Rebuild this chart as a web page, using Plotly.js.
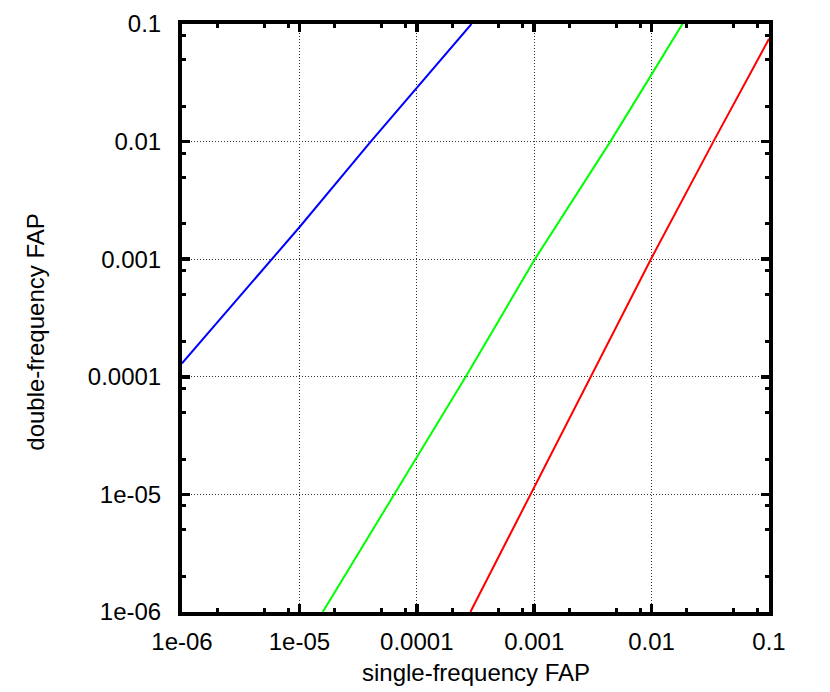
<!DOCTYPE html>
<html>
<head>
<meta charset="utf-8">
<script src="https://cdn.plot.ly/plotly-3.0.1.min.js"></script>
<style>
  html, body { margin: 0; padding: 0; background: #fff; }
  #plot { width: 830px; height: 692px; }
</style>
</head>
<body>
<div id="plot"></div>
<script>
// values (log-log)
const blueX = [1e-6, 5.82e-6, 1e-5, 4.05e-5, 1e-4, 2.92e-4];
const blueY = [1.30e-4, 1e-3, 1.87e-3, 1e-2, 0.0284, 0.1];

const greenX = [1.58e-5, 6.41e-5, 1e-4, 2.61e-4, 1e-3, 4.45e-3, 1e-2, 1.83e-2];
const greenY = [1e-6, 1e-5, 2.08e-5, 1e-4, 9.8e-4, 1e-2, 0.0373, 0.1];

const redX = [2.86e-4, 9.31e-4, 1e-3, 2.99e-3, 9.86e-3, 0.0336, 0.1];
const redY = [1e-6, 1e-5, 1.16e-5, 1e-4, 1e-3, 1e-2, 0.0748];

const tickVals = [1e-6, 1e-5, 1e-4, 1e-3, 1e-2, 1e-1];
const tickText = ["1e-06", "1e-05", "0.0001", "0.001", "0.01", "0.1"];
const minorMult = [2, 5, 8];

const minorVals = [];
tickVals.slice(0, -1).forEach((v) => {
  minorMult.forEach((m) => minorVals.push(v * m));
});

const font = { family: "Liberation Sans, Arial, sans-serif", size: 24, color: "#000" };

function line(x, y, color) {
  return {
    x: x,
    y: y,
    type: "scatter",
    mode: "lines",
    line: { color: color, width: 2 },
    hoverinfo: "skip",
  };
}

function axis(extra) {
  return Object.assign(
    {
      type: "log",
      range: [-6, -1],
      tickmode: "array",
      tickvals: tickVals,
      ticktext: tickText,
      ticks: "inside",
      ticklen: 8,
      tickwidth: 3.5,
      tickcolor: "#000",
      showline: true,
      linewidth: 4,
      linecolor: "#000",
      mirror: "allticks",
      showgrid: true,
      gridcolor: "#333",
      gridwidth: 1,
      griddash: "1px,2px",
      zeroline: false,
      tickfont: font,
      minor: {
        tickmode: "array",
        tickvals: minorVals,
        ticks: "inside",
        ticklen: 4,
        tickwidth: 3,
        tickcolor: "#000",
        showgrid: false,
      },
    },
    extra
  );
}

const layout = {
  width: 830,
  height: 692,
  margin: { l: 182, r: 61, t: 24, b: 80 },
  paper_bgcolor: "#fff",
  plot_bgcolor: "#fff",
  showlegend: false,
  font: font,
  xaxis: axis({ ticklabelstandoff: 5 }),
  yaxis: axis({ ticklabelstandoff: 12 }),
  annotations: [
    {
      text: "single-frequency FAP",
      xref: "paper",
      yref: "paper",
      x: 0.5,
      y: 0,
      yshift: -45,
      yanchor: "top",
      showarrow: false,
      font: font,
    },
    {
      text: "double-frequency FAP",
      xref: "paper",
      yref: "paper",
      x: 0,
      xshift: -146,
      y: 0.475,
      textangle: -90,
      xanchor: "center",
      showarrow: false,
      font: font,
    },
  ],
};

Plotly.newPlot(
  "plot",
  [line(blueX, blueY, "#0000ff"), line(greenX, greenY, "#00ff00"), line(redX, redY, "#ff0000")],
  layout,
  { displayModeBar: false, staticPlot: true }
);
</script>
</body>
</html>
